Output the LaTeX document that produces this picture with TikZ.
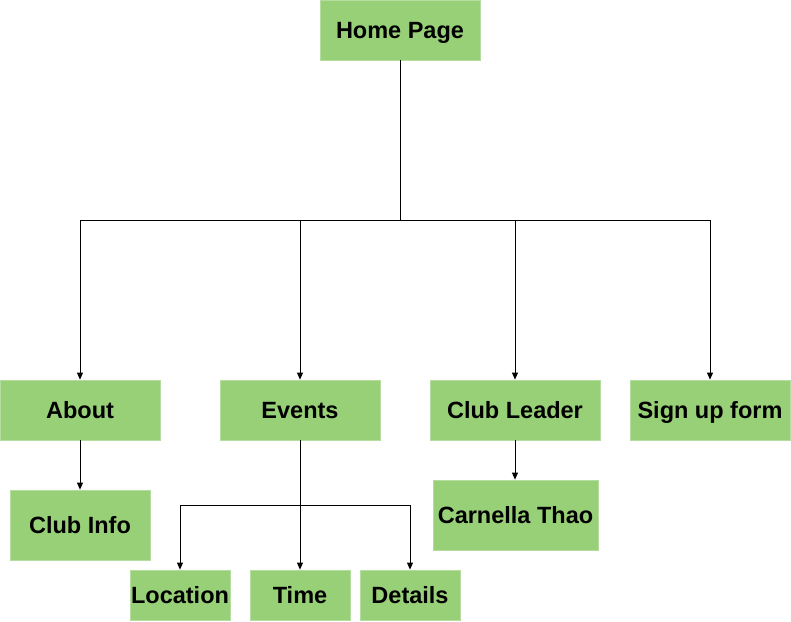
\documentclass[tikz,border=0pt]{standalone}
\usepackage{fontspec}
\setmainfont{Liberation Sans}
\usetikzlibrary{arrows.meta}
\definecolor{boxfill}{HTML}{97D077}
\definecolor{boxline}{HTML}{B5DDA0}
\begin{document}
\begin{tikzpicture}[x=1pt,y=-1pt,
  box/.style={draw=boxline,line width=0.8pt,fill=boxfill,inner sep=0pt,
    text height=16.8pt,text depth=0pt,
    font=\fontsize{23.5}{27}\selectfont\bfseries},
  link/.style={draw=black,line width=0.8pt,-{Triangle[length=7pt,width=6pt]}},
  plain/.style={draw=black,line width=0.8pt}]
\useasboundingbox (0,0) rectangle (791,621);
% nodes
\node[box,minimum width=160pt,minimum height=60pt] (home) at (400,30) {Home Page};
\node[box,minimum width=160pt,minimum height=60pt] (about) at (80,410) {About};
\node[box,minimum width=160pt,minimum height=60pt] (events) at (300,410) {Events};
\node[box,minimum width=170pt,minimum height=60pt] (leader) at (515,410) {Club Leader};
\node[box,minimum width=160pt,minimum height=60pt] (signup) at (710,410) {Sign up form};
\node[box,minimum width=140pt,minimum height=70pt] (info) at (80,525) {Club Info};
\node[box,minimum width=165pt,minimum height=70pt] (thao) at (515.5,515) {Carnella Thao};
\node[box,minimum width=100pt,minimum height=50pt] (loc) at (180,595) {Location};
\node[box,minimum width=100pt,minimum height=50pt] (time) at (300,595) {Time};
\node[box,minimum width=100pt,minimum height=50pt] (det) at (410,595) {Details};
% junction points
\coordinate (hj) at (400,220);
\coordinate (ej) at (300,505);
% connectors
\draw[plain] (home.south) -- (hj);
\draw[link] (hj) -| (about.north);
\draw[link] (hj) -| (events.north);
\draw[link] (hj) -| (leader.north);
\draw[link] (hj) -| (signup.north);
\draw[link] (about.south) -- (info.north);
\draw[link] (leader.south) -- (leader.south |- thao.north);
\draw[plain] (events.south) -- (ej);
\draw[link] (ej) -| (loc.north);
\draw[link] (ej) -- (time.north);
\draw[link] (ej) -| (det.north);
\end{tikzpicture}
\end{document}
